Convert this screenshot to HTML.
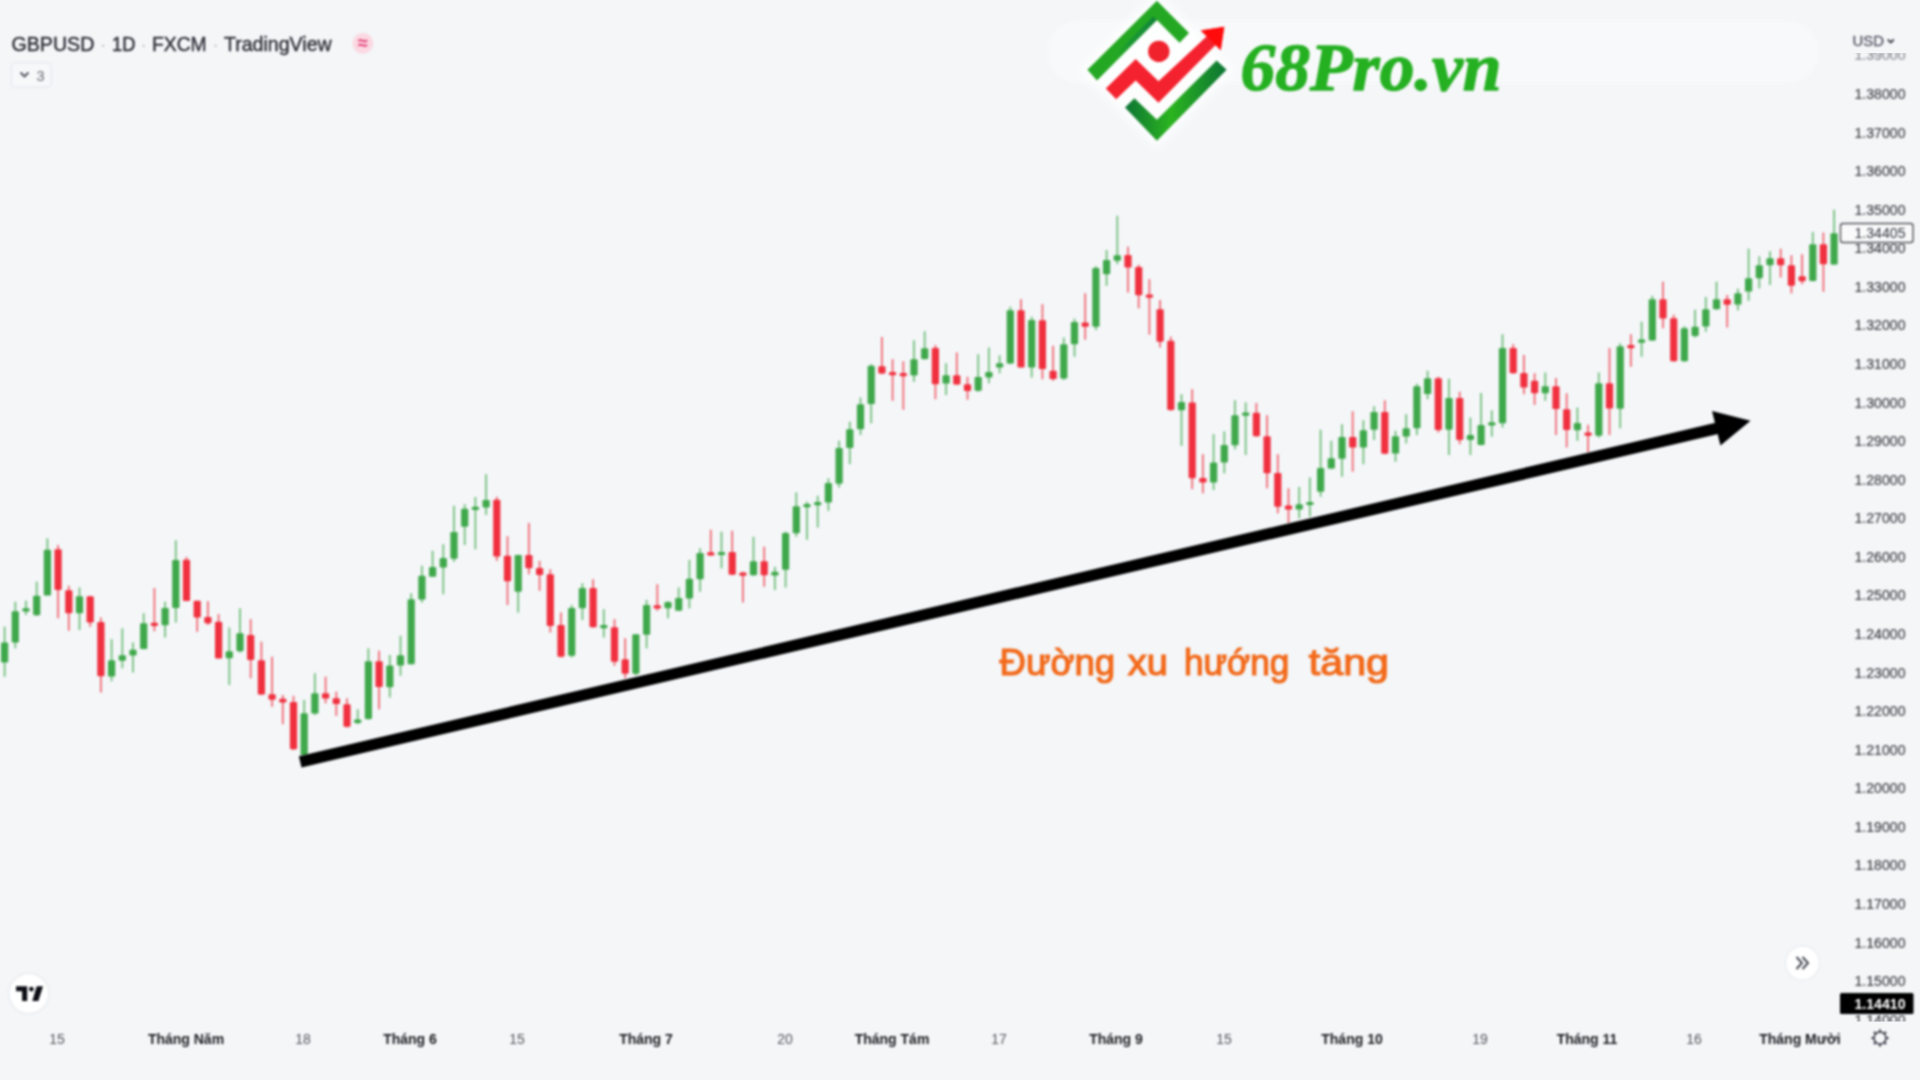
<!DOCTYPE html>
<html lang="vi"><head><meta charset="utf-8"><title>GBPUSD - Đường xu hướng tăng</title>
<style>
html,body{margin:0;padding:0;background:#f4f6f8;}
body{width:1920px;height:1080px;overflow:hidden;position:relative;font-family:"Liberation Sans",sans-serif;}
svg{position:absolute;left:0;top:0;}
svg text{font-family:"Liberation Sans",sans-serif;}
.ya text{font-size:14px;fill:#46474c;stroke:#46474c;stroke-width:.2px;}
.xa text{font-size:14px;}
.xa .d{fill:#56575d;}
.xa .m{fill:#1b1c20;font-weight:bold;}
.soft{filter:blur(.8px);}
.cand{filter:blur(1.15px);}
</style></head><body>
<svg width="1920" height="1080" viewBox="0 0 1920 1080">
<defs>
<linearGradient id="gt" x1="0" y1="1" x2="1" y2="0"><stop offset="0" stop-color="#25a922"/><stop offset=".75" stop-color="#1f9a28"/><stop offset="1" stop-color="#0f7d36"/></linearGradient>
<linearGradient id="gb" x1="0" y1="0" x2="1" y2="0"><stop offset="0" stop-color="#0c7434"/><stop offset=".45" stop-color="#2bb41f"/><stop offset="1" stop-color="#0c7434"/></linearGradient>
<linearGradient id="gd" x1="1" y1="0" x2="0" y2="1"><stop offset="0" stop-color="#0f8238"/><stop offset=".6" stop-color="#17913a" stop-opacity=".7"/><stop offset="1" stop-color="#24a823" stop-opacity="0"/></linearGradient>
<clipPath id="cy"><rect x="1840" y="53" width="80" height="968.5"/></clipPath>
</defs>
<rect width="1920" height="1080" fill="#f4f6f8"/>
<rect x="1047" y="21" width="772" height="62" rx="31" fill="#f8f9fa" style="filter:blur(2.5px)"/>

<!-- header -->
<g class="soft">
<g font-size="20" fill="#30323a" stroke="#30323a" stroke-width=".45">
<text x="11.5" y="50.6" textLength="82.8" lengthAdjust="spacingAndGlyphs">GBPUSD</text>
<text x="112" y="50.6" textLength="23.4" lengthAdjust="spacingAndGlyphs">1D</text>
<text x="152" y="50.6" textLength="54.7" lengthAdjust="spacingAndGlyphs">FXCM</text>
<text x="223.9" y="50.6" textLength="107.8" lengthAdjust="spacingAndGlyphs">TradingView</text>
</g>
<g font-size="20" fill="#c3c6cf" text-anchor="middle"><text x="103.1" y="50.6">·</text><text x="143.7" y="50.6">·</text><text x="215.5" y="50.6">·</text></g>
<circle cx="362.9" cy="43.4" r="10.4" fill="#fbd8e2"/>
<text x="362.9" y="49.3" font-size="18" font-weight="bold" fill="#e23a74" text-anchor="middle">≈</text>
<rect x="11.5" y="63" width="39.5" height="24" rx="3" fill="#f7f8fa" stroke="#e2e5ec" stroke-width="1"/>
<path d="M20.5 72.5l4 4 4-4" fill="none" stroke="#4e515b" stroke-width="1.8"/>
<text x="36.5" y="81.3" font-size="14.5" fill="#696c76">3</text>
<text x="1852.5" y="46.3" font-size="15" fill="#565866" stroke="#565866" stroke-width=".3" textLength="31.5" lengthAdjust="spacingAndGlyphs">USD</text>
<path d="M1887.8 39.5l3 3 3-3" fill="none" stroke="#3c3f49" stroke-width="1.8"/>
</g>

<!-- logo -->
<polygon points="1080,70 1157,-8 1234,70 1157,148" fill="#fff" opacity=".85" style="filter:blur(5px)"/>
<g class="soft">
<polygon points="1087.4,69.8 1156.9,0.7 1189,32.9 1179.6,42.7 1156.9,20.1 1097,80.5" fill="#24a823"/>
<polygon points="1156.9,20.1 1153.2,16.4 1112,57.6 1115.7,61.3" fill="url(#gd)"/>
<polygon points="1125,107.4 1134.4,98.3 1156.9,119.7 1216.6,60.4 1226.6,69.8 1156.9,140.7" fill="url(#gb)"/>
<polygon points="1105.8,88.6 1135.7,59.1 1158.5,81.2 1206.8,36.2 1200.8,30.6 1224.3,26.8 1220.7,50.3 1215.6,45 1158.5,102.7 1135.7,80.5 1116.2,99.3" fill="#f4222e"/>
<polygon points="1200.8,30.6 1224.3,26.8 1220.7,50.3" fill="#ff0b0b"/>
<circle cx="1158.8" cy="51.4" r="10.7" fill="#f0222c"/>
<text x="1240.5" y="89.7" font-family="'Liberation Serif',serif" font-weight="bold" font-style="italic" font-size="67" fill="#25b022" stroke="#25b022" stroke-width="1.3" stroke-linejoin="round" textLength="261" lengthAdjust="spacingAndGlyphs" style="font-family:'Liberation Serif',serif">68Pro.vn</text>
</g>

<!-- candles -->
<g class="cand">
<path d="M4.6 626.7V676.7" stroke="#3fa84b" stroke-width="1.8" stroke-opacity=".7"/><rect x="1.0" y="642.5" width="7.2" height="20.0" rx="1.2" fill="#3fa84b"/>
<path d="M15.3 601.7V648.3" stroke="#3fa84b" stroke-width="1.8" stroke-opacity=".7"/><rect x="11.7" y="611.3" width="7.2" height="31.2" rx="1.2" fill="#3fa84b"/>
<path d="M26.0 600.8V615.0" stroke="#3fa84b" stroke-width="1.8" stroke-opacity=".7"/><rect x="22.4" y="608.3" width="7.2" height="3.3" rx="1.2" fill="#3fa84b"/>
<path d="M36.7 581.7V615.8" stroke="#3fa84b" stroke-width="1.8" stroke-opacity=".7"/><rect x="33.1" y="595.8" width="7.2" height="19.5" rx="1.2" fill="#3fa84b"/>
<path d="M47.4 538.3V595.3" stroke="#3fa84b" stroke-width="1.8" stroke-opacity=".7"/><rect x="43.8" y="549.7" width="7.2" height="45.7" rx="1.2" fill="#3fa84b"/>
<path d="M58.1 545.0V618.3" stroke="#f0303f" stroke-width="1.8" stroke-opacity=".7"/><rect x="54.5" y="549.2" width="7.2" height="40.8" rx="1.2" fill="#f0303f"/>
<path d="M68.8 585.8V630.8" stroke="#f0303f" stroke-width="1.8" stroke-opacity=".7"/><rect x="65.2" y="590.3" width="7.2" height="23.0" rx="1.2" fill="#f0303f"/>
<path d="M79.5 587.5V630.0" stroke="#3fa84b" stroke-width="1.8" stroke-opacity=".7"/><rect x="75.9" y="596.3" width="7.2" height="17.0" rx="1.2" fill="#3fa84b"/>
<path d="M90.2 595.8V626.7" stroke="#f0303f" stroke-width="1.8" stroke-opacity=".7"/><rect x="86.6" y="596.3" width="7.2" height="26.2" rx="1.2" fill="#f0303f"/>
<path d="M100.9 617.5V692.5" stroke="#f0303f" stroke-width="1.8" stroke-opacity=".7"/><rect x="97.3" y="622.0" width="7.2" height="54.3" rx="1.2" fill="#f0303f"/>
<path d="M111.6 639.2V681.3" stroke="#3fa84b" stroke-width="1.8" stroke-opacity=".7"/><rect x="108.0" y="660.3" width="7.2" height="16.3" rx="1.2" fill="#3fa84b"/>
<path d="M122.3 628.3V668.3" stroke="#3fa84b" stroke-width="1.8" stroke-opacity=".7"/><rect x="118.7" y="655.3" width="7.2" height="5.5" rx="1.2" fill="#3fa84b"/>
<path d="M133.0 642.5V672.5" stroke="#3fa84b" stroke-width="1.8" stroke-opacity=".7"/><rect x="129.4" y="649.7" width="7.2" height="5.7" rx="1.2" fill="#3fa84b"/>
<path d="M143.7 613.3V649.2" stroke="#3fa84b" stroke-width="1.8" stroke-opacity=".7"/><rect x="140.1" y="623.3" width="7.2" height="25.8" rx="1.2" fill="#3fa84b"/>
<path d="M154.4 588.0V631.3" stroke="#f0303f" stroke-width="1.8" stroke-opacity=".7"/><rect x="150.8" y="622.8" width="7.2" height="3.2" rx="1.2" fill="#f0303f"/>
<path d="M165.1 601.7V637.5" stroke="#3fa84b" stroke-width="1.8" stroke-opacity=".7"/><rect x="161.5" y="608.0" width="7.2" height="17.3" rx="1.2" fill="#3fa84b"/>
<path d="M175.8 540.3V622.5" stroke="#3fa84b" stroke-width="1.8" stroke-opacity=".7"/><rect x="172.2" y="560.0" width="7.2" height="48.0" rx="1.2" fill="#3fa84b"/>
<path d="M186.5 557.0V600.8" stroke="#f0303f" stroke-width="1.8" stroke-opacity=".7"/><rect x="182.9" y="559.7" width="7.2" height="41.2" rx="1.2" fill="#f0303f"/>
<path d="M197.2 600.8V631.7" stroke="#f0303f" stroke-width="1.8" stroke-opacity=".7"/><rect x="193.6" y="600.8" width="7.2" height="16.7" rx="1.2" fill="#f0303f"/>
<path d="M207.9 601.2V625.0" stroke="#f0303f" stroke-width="1.8" stroke-opacity=".7"/><rect x="204.3" y="617.0" width="7.2" height="6.3" rx="1.2" fill="#f0303f"/>
<path d="M218.6 614.2V658.3" stroke="#f0303f" stroke-width="1.8" stroke-opacity=".7"/><rect x="215.0" y="621.7" width="7.2" height="36.7" rx="1.2" fill="#f0303f"/>
<path d="M229.3 627.5V685.0" stroke="#3fa84b" stroke-width="1.8" stroke-opacity=".7"/><rect x="225.7" y="651.3" width="7.2" height="7.0" rx="1.2" fill="#3fa84b"/>
<path d="M240.0 608.3V652.5" stroke="#3fa84b" stroke-width="1.8" stroke-opacity=".7"/><rect x="236.4" y="633.3" width="7.2" height="18.0" rx="1.2" fill="#3fa84b"/>
<path d="M250.7 619.2V678.3" stroke="#f0303f" stroke-width="1.8" stroke-opacity=".7"/><rect x="247.1" y="635.0" width="7.2" height="25.0" rx="1.2" fill="#f0303f"/>
<path d="M261.4 641.7V695.0" stroke="#f0303f" stroke-width="1.8" stroke-opacity=".7"/><rect x="257.8" y="660.3" width="7.2" height="34.3" rx="1.2" fill="#f0303f"/>
<path d="M272.1 656.7V706.7" stroke="#f0303f" stroke-width="1.8" stroke-opacity=".7"/><rect x="268.5" y="694.2" width="7.2" height="5.5" rx="1.2" fill="#f0303f"/>
<path d="M282.8 695.0V724.2" stroke="#f0303f" stroke-width="1.8" stroke-opacity=".7"/><rect x="279.2" y="698.7" width="7.2" height="3.8" rx="1.2" fill="#f0303f"/>
<path d="M293.5 695.8V750.0" stroke="#f0303f" stroke-width="1.8" stroke-opacity=".7"/><rect x="289.9" y="702.0" width="7.2" height="47.2" rx="1.2" fill="#f0303f"/>
<path d="M304.2 700.0V755.8" stroke="#3fa84b" stroke-width="1.8" stroke-opacity=".7"/><rect x="300.6" y="713.3" width="7.2" height="42.5" rx="1.2" fill="#3fa84b"/>
<path d="M314.9 673.3V715.0" stroke="#3fa84b" stroke-width="1.8" stroke-opacity=".7"/><rect x="311.3" y="693.3" width="7.2" height="20.3" rx="1.2" fill="#3fa84b"/>
<path d="M325.6 676.7V703.3" stroke="#f0303f" stroke-width="1.8" stroke-opacity=".7"/><rect x="322.0" y="693.3" width="7.2" height="5.3" rx="1.2" fill="#f0303f"/>
<path d="M336.3 691.7V715.8" stroke="#f0303f" stroke-width="1.8" stroke-opacity=".7"/><rect x="332.7" y="698.3" width="7.2" height="5.8" rx="1.2" fill="#f0303f"/>
<path d="M347.0 698.3V727.5" stroke="#f0303f" stroke-width="1.8" stroke-opacity=".7"/><rect x="343.4" y="704.2" width="7.2" height="22.5" rx="1.2" fill="#f0303f"/>
<path d="M357.7 709.2V724.2" stroke="#3fa84b" stroke-width="1.8" stroke-opacity=".7"/><rect x="354.1" y="719.5" width="7.2" height="3.5" rx="1.2" fill="#3fa84b"/>
<path d="M368.4 648.3V719.7" stroke="#3fa84b" stroke-width="1.8" stroke-opacity=".7"/><rect x="364.8" y="661.3" width="7.2" height="57.8" rx="1.2" fill="#3fa84b"/>
<path d="M379.1 650.8V709.2" stroke="#f0303f" stroke-width="1.8" stroke-opacity=".7"/><rect x="375.5" y="661.3" width="7.2" height="25.8" rx="1.2" fill="#f0303f"/>
<path d="M389.8 655.0V697.5" stroke="#3fa84b" stroke-width="1.8" stroke-opacity=".7"/><rect x="386.2" y="665.5" width="7.2" height="21.7" rx="1.2" fill="#3fa84b"/>
<path d="M400.5 635.8V675.8" stroke="#3fa84b" stroke-width="1.8" stroke-opacity=".7"/><rect x="396.9" y="655.3" width="7.2" height="10.2" rx="1.2" fill="#3fa84b"/>
<path d="M411.2 593.3V664.2" stroke="#3fa84b" stroke-width="1.8" stroke-opacity=".7"/><rect x="407.6" y="599.2" width="7.2" height="65.0" rx="1.2" fill="#3fa84b"/>
<path d="M421.9 565.8V602.5" stroke="#3fa84b" stroke-width="1.8" stroke-opacity=".7"/><rect x="418.3" y="575.8" width="7.2" height="23.8" rx="1.2" fill="#3fa84b"/>
<path d="M432.6 550.8V576.7" stroke="#3fa84b" stroke-width="1.8" stroke-opacity=".7"/><rect x="429.0" y="567.0" width="7.2" height="9.7" rx="1.2" fill="#3fa84b"/>
<path d="M443.3 544.2V594.2" stroke="#3fa84b" stroke-width="1.8" stroke-opacity=".7"/><rect x="439.7" y="558.0" width="7.2" height="9.5" rx="1.2" fill="#3fa84b"/>
<path d="M454.0 505.8V561.7" stroke="#3fa84b" stroke-width="1.8" stroke-opacity=".7"/><rect x="450.4" y="532.0" width="7.2" height="26.7" rx="1.2" fill="#3fa84b"/>
<path d="M464.7 504.2V545.0" stroke="#3fa84b" stroke-width="1.8" stroke-opacity=".7"/><rect x="461.1" y="508.7" width="7.2" height="18.0" rx="1.2" fill="#3fa84b"/>
<path d="M475.4 497.0V549.2" stroke="#3fa84b" stroke-width="1.8" stroke-opacity=".7"/><rect x="471.8" y="506.7" width="7.2" height="3.2" rx="1.2" fill="#3fa84b"/>
<path d="M486.1 474.2V515.0" stroke="#3fa84b" stroke-width="1.8" stroke-opacity=".7"/><rect x="482.5" y="500.0" width="7.2" height="7.5" rx="1.2" fill="#3fa84b"/>
<path d="M496.8 496.7V560.8" stroke="#f0303f" stroke-width="1.8" stroke-opacity=".7"/><rect x="493.2" y="499.7" width="7.2" height="56.7" rx="1.2" fill="#f0303f"/>
<path d="M507.5 536.3V605.0" stroke="#f0303f" stroke-width="1.8" stroke-opacity=".7"/><rect x="503.9" y="555.8" width="7.2" height="25.5" rx="1.2" fill="#f0303f"/>
<path d="M518.2 554.7V612.5" stroke="#3fa84b" stroke-width="1.8" stroke-opacity=".7"/><rect x="514.6" y="555.0" width="7.2" height="36.7" rx="1.2" fill="#3fa84b"/>
<path d="M528.9 523.0V574.2" stroke="#f0303f" stroke-width="1.8" stroke-opacity=".7"/><rect x="525.3" y="555.0" width="7.2" height="13.3" rx="1.2" fill="#f0303f"/>
<path d="M539.6 560.8V590.8" stroke="#f0303f" stroke-width="1.8" stroke-opacity=".7"/><rect x="536.0" y="568.0" width="7.2" height="7.0" rx="1.2" fill="#f0303f"/>
<path d="M550.3 569.2V632.5" stroke="#f0303f" stroke-width="1.8" stroke-opacity=".7"/><rect x="546.7" y="574.2" width="7.2" height="51.7" rx="1.2" fill="#f0303f"/>
<path d="M561.0 612.5V657.5" stroke="#f0303f" stroke-width="1.8" stroke-opacity=".7"/><rect x="557.4" y="625.0" width="7.2" height="31.7" rx="1.2" fill="#f0303f"/>
<path d="M571.7 605.0V657.5" stroke="#3fa84b" stroke-width="1.8" stroke-opacity=".7"/><rect x="568.1" y="608.0" width="7.2" height="47.8" rx="1.2" fill="#3fa84b"/>
<path d="M582.4 583.3V620.0" stroke="#3fa84b" stroke-width="1.8" stroke-opacity=".7"/><rect x="578.8" y="588.0" width="7.2" height="20.3" rx="1.2" fill="#3fa84b"/>
<path d="M593.1 579.2V627.5" stroke="#f0303f" stroke-width="1.8" stroke-opacity=".7"/><rect x="589.5" y="588.0" width="7.2" height="39.2" rx="1.2" fill="#f0303f"/>
<path d="M603.8 609.2V637.5" stroke="#3fa84b" stroke-width="1.8" stroke-opacity=".7"/><rect x="600.2" y="625.1" width="7.2" height="3.2" rx="1.2" fill="#3fa84b"/>
<path d="M614.5 619.2V665.8" stroke="#f0303f" stroke-width="1.8" stroke-opacity=".7"/><rect x="610.9" y="627.2" width="7.2" height="34.5" rx="1.2" fill="#f0303f"/>
<path d="M625.2 638.3V678.3" stroke="#f0303f" stroke-width="1.8" stroke-opacity=".7"/><rect x="621.6" y="659.2" width="7.2" height="14.5" rx="1.2" fill="#f0303f"/>
<path d="M635.9 634.2V675.8" stroke="#3fa84b" stroke-width="1.8" stroke-opacity=".7"/><rect x="632.3" y="634.2" width="7.2" height="39.5" rx="1.2" fill="#3fa84b"/>
<path d="M646.6 600.0V648.3" stroke="#3fa84b" stroke-width="1.8" stroke-opacity=".7"/><rect x="643.0" y="605.0" width="7.2" height="29.7" rx="1.2" fill="#3fa84b"/>
<path d="M657.3 584.2V610.8" stroke="#f0303f" stroke-width="1.8" stroke-opacity=".7"/><rect x="653.7" y="605.3" width="7.2" height="3.3" rx="1.2" fill="#f0303f"/>
<path d="M668.0 601.3V618.3" stroke="#3fa84b" stroke-width="1.8" stroke-opacity=".7"/><rect x="664.4" y="602.0" width="7.2" height="6.3" rx="1.2" fill="#3fa84b"/>
<path d="M678.7 587.5V610.8" stroke="#3fa84b" stroke-width="1.8" stroke-opacity=".7"/><rect x="675.1" y="598.0" width="7.2" height="12.8" rx="1.2" fill="#3fa84b"/>
<path d="M689.4 560.0V608.3" stroke="#3fa84b" stroke-width="1.8" stroke-opacity=".7"/><rect x="685.8" y="578.7" width="7.2" height="19.7" rx="1.2" fill="#3fa84b"/>
<path d="M700.1 548.3V591.7" stroke="#3fa84b" stroke-width="1.8" stroke-opacity=".7"/><rect x="696.5" y="553.0" width="7.2" height="26.2" rx="1.2" fill="#3fa84b"/>
<path d="M710.8 529.7V555.8" stroke="#f0303f" stroke-width="1.8" stroke-opacity=".7"/><rect x="707.2" y="552.3" width="7.2" height="3.2" rx="1.2" fill="#f0303f"/>
<path d="M721.5 531.7V568.3" stroke="#3fa84b" stroke-width="1.8" stroke-opacity=".7"/><rect x="717.9" y="551.9" width="7.2" height="3.2" rx="1.2" fill="#3fa84b"/>
<path d="M732.2 530.8V575.0" stroke="#f0303f" stroke-width="1.8" stroke-opacity=".7"/><rect x="728.6" y="552.0" width="7.2" height="22.7" rx="1.2" fill="#f0303f"/>
<path d="M742.9 571.7V602.5" stroke="#f0303f" stroke-width="1.8" stroke-opacity=".7"/><rect x="739.3" y="572.6" width="7.2" height="3.2" rx="1.2" fill="#f0303f"/>
<path d="M753.5 536.7V575.8" stroke="#3fa84b" stroke-width="1.8" stroke-opacity=".7"/><rect x="749.9" y="561.3" width="7.2" height="14.0" rx="1.2" fill="#3fa84b"/>
<path d="M764.2 546.7V586.7" stroke="#f0303f" stroke-width="1.8" stroke-opacity=".7"/><rect x="760.6" y="561.3" width="7.2" height="14.0" rx="1.2" fill="#f0303f"/>
<path d="M774.9 566.7V590.0" stroke="#3fa84b" stroke-width="1.8" stroke-opacity=".7"/><rect x="771.3" y="571.7" width="7.2" height="3.7" rx="1.2" fill="#3fa84b"/>
<path d="M785.6 531.7V587.5" stroke="#3fa84b" stroke-width="1.8" stroke-opacity=".7"/><rect x="782.0" y="533.0" width="7.2" height="36.7" rx="1.2" fill="#3fa84b"/>
<path d="M796.3 492.5V536.7" stroke="#3fa84b" stroke-width="1.8" stroke-opacity=".7"/><rect x="792.7" y="506.3" width="7.2" height="27.0" rx="1.2" fill="#3fa84b"/>
<path d="M807.0 501.7V539.7" stroke="#3fa84b" stroke-width="1.8" stroke-opacity=".7"/><rect x="803.4" y="504.0" width="7.2" height="3.2" rx="1.2" fill="#3fa84b"/>
<path d="M817.7 495.8V527.5" stroke="#3fa84b" stroke-width="1.8" stroke-opacity=".7"/><rect x="814.1" y="502.0" width="7.2" height="3.3" rx="1.2" fill="#3fa84b"/>
<path d="M828.4 478.3V510.8" stroke="#3fa84b" stroke-width="1.8" stroke-opacity=".7"/><rect x="824.8" y="483.0" width="7.2" height="19.5" rx="1.2" fill="#3fa84b"/>
<path d="M839.1 440.8V487.5" stroke="#3fa84b" stroke-width="1.8" stroke-opacity=".7"/><rect x="835.5" y="448.0" width="7.2" height="35.7" rx="1.2" fill="#3fa84b"/>
<path d="M849.8 421.7V464.2" stroke="#3fa84b" stroke-width="1.8" stroke-opacity=".7"/><rect x="846.2" y="429.2" width="7.2" height="18.8" rx="1.2" fill="#3fa84b"/>
<path d="M860.5 397.5V435.0" stroke="#3fa84b" stroke-width="1.8" stroke-opacity=".7"/><rect x="856.9" y="404.2" width="7.2" height="25.0" rx="1.2" fill="#3fa84b"/>
<path d="M871.2 364.2V423.3" stroke="#3fa84b" stroke-width="1.8" stroke-opacity=".7"/><rect x="867.6" y="365.8" width="7.2" height="38.3" rx="1.2" fill="#3fa84b"/>
<path d="M881.9 337.0V374.2" stroke="#f0303f" stroke-width="1.8" stroke-opacity=".7"/><rect x="878.3" y="366.3" width="7.2" height="7.3" rx="1.2" fill="#f0303f"/>
<path d="M892.6 359.2V400.8" stroke="#f0303f" stroke-width="1.8" stroke-opacity=".7"/><rect x="889.0" y="372.0" width="7.2" height="3.2" rx="1.2" fill="#f0303f"/>
<path d="M903.3 361.3V409.7" stroke="#f0303f" stroke-width="1.8" stroke-opacity=".7"/><rect x="899.7" y="373.1" width="7.2" height="3.2" rx="1.2" fill="#f0303f"/>
<path d="M914.0 340.3V381.7" stroke="#3fa84b" stroke-width="1.8" stroke-opacity=".7"/><rect x="910.4" y="359.2" width="7.2" height="16.2" rx="1.2" fill="#3fa84b"/>
<path d="M924.7 331.3V359.7" stroke="#3fa84b" stroke-width="1.8" stroke-opacity=".7"/><rect x="921.1" y="348.3" width="7.2" height="10.8" rx="1.2" fill="#3fa84b"/>
<path d="M935.4 345.0V399.2" stroke="#f0303f" stroke-width="1.8" stroke-opacity=".7"/><rect x="931.8" y="348.0" width="7.2" height="36.2" rx="1.2" fill="#f0303f"/>
<path d="M946.1 363.3V395.0" stroke="#3fa84b" stroke-width="1.8" stroke-opacity=".7"/><rect x="942.5" y="375.3" width="7.2" height="8.3" rx="1.2" fill="#3fa84b"/>
<path d="M956.8 352.5V385.0" stroke="#f0303f" stroke-width="1.8" stroke-opacity=".7"/><rect x="953.2" y="375.3" width="7.2" height="9.3" rx="1.2" fill="#f0303f"/>
<path d="M967.5 376.7V399.7" stroke="#f0303f" stroke-width="1.8" stroke-opacity=".7"/><rect x="963.9" y="384.2" width="7.2" height="6.7" rx="1.2" fill="#f0303f"/>
<path d="M978.2 354.2V391.7" stroke="#3fa84b" stroke-width="1.8" stroke-opacity=".7"/><rect x="974.6" y="377.0" width="7.2" height="13.8" rx="1.2" fill="#3fa84b"/>
<path d="M988.9 347.5V383.3" stroke="#3fa84b" stroke-width="1.8" stroke-opacity=".7"/><rect x="985.3" y="372.0" width="7.2" height="5.5" rx="1.2" fill="#3fa84b"/>
<path d="M999.6 355.3V373.3" stroke="#3fa84b" stroke-width="1.8" stroke-opacity=".7"/><rect x="996.0" y="363.3" width="7.2" height="4.2" rx="1.2" fill="#3fa84b"/>
<path d="M1010.3 306.7V364.2" stroke="#3fa84b" stroke-width="1.8" stroke-opacity=".7"/><rect x="1006.7" y="310.3" width="7.2" height="53.3" rx="1.2" fill="#3fa84b"/>
<path d="M1021.0 299.2V367.5" stroke="#f0303f" stroke-width="1.8" stroke-opacity=".7"/><rect x="1017.4" y="310.3" width="7.2" height="57.2" rx="1.2" fill="#f0303f"/>
<path d="M1031.7 316.7V377.5" stroke="#3fa84b" stroke-width="1.8" stroke-opacity=".7"/><rect x="1028.1" y="320.0" width="7.2" height="47.5" rx="1.2" fill="#3fa84b"/>
<path d="M1042.4 304.2V379.2" stroke="#f0303f" stroke-width="1.8" stroke-opacity=".7"/><rect x="1038.8" y="320.3" width="7.2" height="48.8" rx="1.2" fill="#f0303f"/>
<path d="M1053.1 345.8V380.8" stroke="#f0303f" stroke-width="1.8" stroke-opacity=".7"/><rect x="1049.5" y="370.8" width="7.2" height="8.3" rx="1.2" fill="#f0303f"/>
<path d="M1063.8 337.5V380.0" stroke="#3fa84b" stroke-width="1.8" stroke-opacity=".7"/><rect x="1060.2" y="344.2" width="7.2" height="34.2" rx="1.2" fill="#3fa84b"/>
<path d="M1074.5 318.7V356.7" stroke="#3fa84b" stroke-width="1.8" stroke-opacity=".7"/><rect x="1070.9" y="322.0" width="7.2" height="22.2" rx="1.2" fill="#3fa84b"/>
<path d="M1085.2 293.3V339.7" stroke="#f0303f" stroke-width="1.8" stroke-opacity=".7"/><rect x="1081.6" y="322.5" width="7.2" height="4.2" rx="1.2" fill="#f0303f"/>
<path d="M1095.9 266.3V330.0" stroke="#3fa84b" stroke-width="1.8" stroke-opacity=".7"/><rect x="1092.3" y="268.0" width="7.2" height="58.7" rx="1.2" fill="#3fa84b"/>
<path d="M1106.6 250.0V285.8" stroke="#3fa84b" stroke-width="1.8" stroke-opacity=".7"/><rect x="1103.0" y="260.0" width="7.2" height="14.2" rx="1.2" fill="#3fa84b"/>
<path d="M1117.3 215.8V264.2" stroke="#3fa84b" stroke-width="1.8" stroke-opacity=".7"/><rect x="1113.7" y="255.3" width="7.2" height="5.5" rx="1.2" fill="#3fa84b"/>
<path d="M1128.0 246.7V292.5" stroke="#f0303f" stroke-width="1.8" stroke-opacity=".7"/><rect x="1124.4" y="255.0" width="7.2" height="12.5" rx="1.2" fill="#f0303f"/>
<path d="M1138.7 264.7V308.3" stroke="#f0303f" stroke-width="1.8" stroke-opacity=".7"/><rect x="1135.1" y="267.0" width="7.2" height="28.3" rx="1.2" fill="#f0303f"/>
<path d="M1149.4 279.2V334.7" stroke="#f0303f" stroke-width="1.8" stroke-opacity=".7"/><rect x="1145.8" y="294.5" width="7.2" height="3.2" rx="1.2" fill="#f0303f"/>
<path d="M1160.1 300.0V347.5" stroke="#f0303f" stroke-width="1.8" stroke-opacity=".7"/><rect x="1156.5" y="309.2" width="7.2" height="32.5" rx="1.2" fill="#f0303f"/>
<path d="M1170.8 336.7V410.8" stroke="#f0303f" stroke-width="1.8" stroke-opacity=".7"/><rect x="1167.2" y="340.8" width="7.2" height="69.2" rx="1.2" fill="#f0303f"/>
<path d="M1181.5 394.2V445.8" stroke="#3fa84b" stroke-width="1.8" stroke-opacity=".7"/><rect x="1177.9" y="402.0" width="7.2" height="8.3" rx="1.2" fill="#3fa84b"/>
<path d="M1192.2 389.2V489.2" stroke="#f0303f" stroke-width="1.8" stroke-opacity=".7"/><rect x="1188.6" y="402.5" width="7.2" height="75.8" rx="1.2" fill="#f0303f"/>
<path d="M1202.9 454.2V493.3" stroke="#f0303f" stroke-width="1.8" stroke-opacity=".7"/><rect x="1199.3" y="478.0" width="7.2" height="4.5" rx="1.2" fill="#f0303f"/>
<path d="M1213.6 434.2V490.0" stroke="#3fa84b" stroke-width="1.8" stroke-opacity=".7"/><rect x="1210.0" y="462.5" width="7.2" height="20.0" rx="1.2" fill="#3fa84b"/>
<path d="M1224.3 431.3V473.3" stroke="#3fa84b" stroke-width="1.8" stroke-opacity=".7"/><rect x="1220.7" y="445.0" width="7.2" height="17.5" rx="1.2" fill="#3fa84b"/>
<path d="M1235.0 400.3V449.2" stroke="#3fa84b" stroke-width="1.8" stroke-opacity=".7"/><rect x="1231.4" y="415.3" width="7.2" height="30.0" rx="1.2" fill="#3fa84b"/>
<path d="M1245.7 402.5V455.0" stroke="#3fa84b" stroke-width="1.8" stroke-opacity=".7"/><rect x="1242.1" y="412.5" width="7.2" height="3.2" rx="1.2" fill="#3fa84b"/>
<path d="M1256.4 403.0V436.7" stroke="#f0303f" stroke-width="1.8" stroke-opacity=".7"/><rect x="1252.8" y="412.8" width="7.2" height="23.5" rx="1.2" fill="#f0303f"/>
<path d="M1267.1 415.3V488.3" stroke="#f0303f" stroke-width="1.8" stroke-opacity=".7"/><rect x="1263.5" y="436.3" width="7.2" height="37.0" rx="1.2" fill="#f0303f"/>
<path d="M1277.8 454.2V513.3" stroke="#f0303f" stroke-width="1.8" stroke-opacity=".7"/><rect x="1274.2" y="473.0" width="7.2" height="33.7" rx="1.2" fill="#f0303f"/>
<path d="M1288.5 488.3V523.3" stroke="#f0303f" stroke-width="1.8" stroke-opacity=".7"/><rect x="1284.9" y="505.4" width="7.2" height="4.2" rx="1.2" fill="#f0303f"/>
<path d="M1299.2 487.0V518.3" stroke="#3fa84b" stroke-width="1.8" stroke-opacity=".7"/><rect x="1295.6" y="504.2" width="7.2" height="5.4" rx="1.2" fill="#3fa84b"/>
<path d="M1309.9 477.5V516.7" stroke="#3fa84b" stroke-width="1.8" stroke-opacity=".7"/><rect x="1306.3" y="501.9" width="7.2" height="3.2" rx="1.2" fill="#3fa84b"/>
<path d="M1320.6 429.7V496.7" stroke="#3fa84b" stroke-width="1.8" stroke-opacity=".7"/><rect x="1317.0" y="468.0" width="7.2" height="23.7" rx="1.2" fill="#3fa84b"/>
<path d="M1331.3 440.8V469.2" stroke="#3fa84b" stroke-width="1.8" stroke-opacity=".7"/><rect x="1327.7" y="458.3" width="7.2" height="10.3" rx="1.2" fill="#3fa84b"/>
<path d="M1342.0 424.2V476.7" stroke="#3fa84b" stroke-width="1.8" stroke-opacity=".7"/><rect x="1338.4" y="437.0" width="7.2" height="21.7" rx="1.2" fill="#3fa84b"/>
<path d="M1352.7 411.3V471.7" stroke="#f0303f" stroke-width="1.8" stroke-opacity=".7"/><rect x="1349.1" y="437.0" width="7.2" height="10.5" rx="1.2" fill="#f0303f"/>
<path d="M1363.4 420.3V464.2" stroke="#3fa84b" stroke-width="1.8" stroke-opacity=".7"/><rect x="1359.8" y="430.3" width="7.2" height="17.2" rx="1.2" fill="#3fa84b"/>
<path d="M1374.1 406.3V440.0" stroke="#3fa84b" stroke-width="1.8" stroke-opacity=".7"/><rect x="1370.5" y="412.0" width="7.2" height="17.7" rx="1.2" fill="#3fa84b"/>
<path d="M1384.8 400.3V454.2" stroke="#f0303f" stroke-width="1.8" stroke-opacity=".7"/><rect x="1381.2" y="412.0" width="7.2" height="41.7" rx="1.2" fill="#f0303f"/>
<path d="M1395.5 430.8V461.7" stroke="#3fa84b" stroke-width="1.8" stroke-opacity=".7"/><rect x="1391.9" y="436.3" width="7.2" height="17.3" rx="1.2" fill="#3fa84b"/>
<path d="M1406.2 414.2V443.3" stroke="#3fa84b" stroke-width="1.8" stroke-opacity=".7"/><rect x="1402.6" y="428.3" width="7.2" height="8.3" rx="1.2" fill="#3fa84b"/>
<path d="M1416.9 383.7V435.0" stroke="#3fa84b" stroke-width="1.8" stroke-opacity=".7"/><rect x="1413.3" y="386.3" width="7.2" height="42.0" rx="1.2" fill="#3fa84b"/>
<path d="M1427.6 370.8V399.2" stroke="#3fa84b" stroke-width="1.8" stroke-opacity=".7"/><rect x="1424.0" y="378.3" width="7.2" height="15.8" rx="1.2" fill="#3fa84b"/>
<path d="M1438.3 376.7V432.5" stroke="#f0303f" stroke-width="1.8" stroke-opacity=".7"/><rect x="1434.7" y="378.3" width="7.2" height="51.7" rx="1.2" fill="#f0303f"/>
<path d="M1449.0 378.7V455.0" stroke="#3fa84b" stroke-width="1.8" stroke-opacity=".7"/><rect x="1445.4" y="398.0" width="7.2" height="31.7" rx="1.2" fill="#3fa84b"/>
<path d="M1459.7 391.7V444.2" stroke="#f0303f" stroke-width="1.8" stroke-opacity=".7"/><rect x="1456.1" y="398.0" width="7.2" height="42.0" rx="1.2" fill="#f0303f"/>
<path d="M1470.4 417.5V455.0" stroke="#3fa84b" stroke-width="1.8" stroke-opacity=".7"/><rect x="1466.8" y="435.0" width="7.2" height="5.0" rx="1.2" fill="#3fa84b"/>
<path d="M1481.1 393.0V445.3" stroke="#3fa84b" stroke-width="1.8" stroke-opacity=".7"/><rect x="1477.5" y="425.0" width="7.2" height="20.0" rx="1.2" fill="#3fa84b"/>
<path d="M1491.8 410.3V436.7" stroke="#3fa84b" stroke-width="1.8" stroke-opacity=".7"/><rect x="1488.2" y="422.3" width="7.2" height="3.2" rx="1.2" fill="#3fa84b"/>
<path d="M1502.5 334.2V427.5" stroke="#3fa84b" stroke-width="1.8" stroke-opacity=".7"/><rect x="1498.9" y="348.0" width="7.2" height="75.3" rx="1.2" fill="#3fa84b"/>
<path d="M1513.2 344.2V373.7" stroke="#f0303f" stroke-width="1.8" stroke-opacity=".7"/><rect x="1509.6" y="348.0" width="7.2" height="25.3" rx="1.2" fill="#f0303f"/>
<path d="M1523.9 355.0V394.2" stroke="#f0303f" stroke-width="1.8" stroke-opacity=".7"/><rect x="1520.3" y="373.0" width="7.2" height="14.5" rx="1.2" fill="#f0303f"/>
<path d="M1534.6 373.3V405.0" stroke="#f0303f" stroke-width="1.8" stroke-opacity=".7"/><rect x="1531.0" y="380.8" width="7.2" height="12.5" rx="1.2" fill="#f0303f"/>
<path d="M1545.3 372.5V400.8" stroke="#3fa84b" stroke-width="1.8" stroke-opacity=".7"/><rect x="1541.7" y="386.3" width="7.2" height="7.0" rx="1.2" fill="#3fa84b"/>
<path d="M1556.0 378.0V435.0" stroke="#f0303f" stroke-width="1.8" stroke-opacity=".7"/><rect x="1552.4" y="386.3" width="7.2" height="22.8" rx="1.2" fill="#f0303f"/>
<path d="M1566.7 393.3V447.5" stroke="#f0303f" stroke-width="1.8" stroke-opacity=".7"/><rect x="1563.1" y="409.2" width="7.2" height="20.8" rx="1.2" fill="#f0303f"/>
<path d="M1577.4 407.5V440.8" stroke="#3fa84b" stroke-width="1.8" stroke-opacity=".7"/><rect x="1573.8" y="423.0" width="7.2" height="7.3" rx="1.2" fill="#3fa84b"/>
<path d="M1588.1 424.7V452.5" stroke="#f0303f" stroke-width="1.8" stroke-opacity=".7"/><rect x="1584.5" y="432.6" width="7.2" height="3.2" rx="1.2" fill="#f0303f"/>
<path d="M1598.8 372.5V437.5" stroke="#3fa84b" stroke-width="1.8" stroke-opacity=".7"/><rect x="1595.2" y="383.3" width="7.2" height="52.5" rx="1.2" fill="#3fa84b"/>
<path d="M1609.5 348.0V435.0" stroke="#f0303f" stroke-width="1.8" stroke-opacity=".7"/><rect x="1605.9" y="383.3" width="7.2" height="25.3" rx="1.2" fill="#f0303f"/>
<path d="M1620.2 343.3V428.3" stroke="#3fa84b" stroke-width="1.8" stroke-opacity=".7"/><rect x="1616.6" y="346.3" width="7.2" height="62.4" rx="1.2" fill="#3fa84b"/>
<path d="M1630.9 334.2V366.7" stroke="#f0303f" stroke-width="1.8" stroke-opacity=".7"/><rect x="1627.3" y="345.1" width="7.2" height="3.2" rx="1.2" fill="#f0303f"/>
<path d="M1641.6 321.7V356.7" stroke="#3fa84b" stroke-width="1.8" stroke-opacity=".7"/><rect x="1638.0" y="339.6" width="7.2" height="3.2" rx="1.2" fill="#3fa84b"/>
<path d="M1652.3 295.8V340.8" stroke="#3fa84b" stroke-width="1.8" stroke-opacity=".7"/><rect x="1648.7" y="299.2" width="7.2" height="41.2" rx="1.2" fill="#3fa84b"/>
<path d="M1663.0 281.7V328.3" stroke="#f0303f" stroke-width="1.8" stroke-opacity=".7"/><rect x="1659.4" y="299.2" width="7.2" height="19.2" rx="1.2" fill="#f0303f"/>
<path d="M1673.7 314.7V361.7" stroke="#f0303f" stroke-width="1.8" stroke-opacity=".7"/><rect x="1670.1" y="318.3" width="7.2" height="43.0" rx="1.2" fill="#f0303f"/>
<path d="M1684.4 326.3V361.7" stroke="#3fa84b" stroke-width="1.8" stroke-opacity=".7"/><rect x="1680.8" y="328.3" width="7.2" height="33.0" rx="1.2" fill="#3fa84b"/>
<path d="M1695.1 309.7V337.5" stroke="#3fa84b" stroke-width="1.8" stroke-opacity=".7"/><rect x="1691.5" y="326.7" width="7.2" height="9.2" rx="1.2" fill="#3fa84b"/>
<path d="M1705.8 297.0V331.7" stroke="#3fa84b" stroke-width="1.8" stroke-opacity=".7"/><rect x="1702.2" y="309.2" width="7.2" height="17.2" rx="1.2" fill="#3fa84b"/>
<path d="M1716.5 281.7V309.7" stroke="#3fa84b" stroke-width="1.8" stroke-opacity=".7"/><rect x="1712.9" y="299.2" width="7.2" height="10.0" rx="1.2" fill="#3fa84b"/>
<path d="M1727.2 295.0V327.5" stroke="#f0303f" stroke-width="1.8" stroke-opacity=".7"/><rect x="1723.6" y="299.2" width="7.2" height="5.5" rx="1.2" fill="#f0303f"/>
<path d="M1737.9 288.7V310.3" stroke="#3fa84b" stroke-width="1.8" stroke-opacity=".7"/><rect x="1734.3" y="293.3" width="7.2" height="11.3" rx="1.2" fill="#3fa84b"/>
<path d="M1748.6 248.7V300.8" stroke="#3fa84b" stroke-width="1.8" stroke-opacity=".7"/><rect x="1745.0" y="278.3" width="7.2" height="13.3" rx="1.2" fill="#3fa84b"/>
<path d="M1759.3 256.3V288.3" stroke="#3fa84b" stroke-width="1.8" stroke-opacity=".7"/><rect x="1755.7" y="265.3" width="7.2" height="13.0" rx="1.2" fill="#3fa84b"/>
<path d="M1770.0 251.3V285.0" stroke="#3fa84b" stroke-width="1.8" stroke-opacity=".7"/><rect x="1766.4" y="258.3" width="7.2" height="7.0" rx="1.2" fill="#3fa84b"/>
<path d="M1780.7 248.7V277.5" stroke="#f0303f" stroke-width="1.8" stroke-opacity=".7"/><rect x="1777.1" y="258.3" width="7.2" height="7.0" rx="1.2" fill="#f0303f"/>
<path d="M1791.4 255.3V293.3" stroke="#f0303f" stroke-width="1.8" stroke-opacity=".7"/><rect x="1787.8" y="265.3" width="7.2" height="20.5" rx="1.2" fill="#f0303f"/>
<path d="M1802.1 254.2V284.2" stroke="#f0303f" stroke-width="1.8" stroke-opacity=".7"/><rect x="1798.5" y="276.3" width="7.2" height="5.0" rx="1.2" fill="#f0303f"/>
<path d="M1812.8 232.0V281.3" stroke="#3fa84b" stroke-width="1.8" stroke-opacity=".7"/><rect x="1809.2" y="244.2" width="7.2" height="36.7" rx="1.2" fill="#3fa84b"/>
<path d="M1823.4 232.5V291.7" stroke="#f0303f" stroke-width="1.8" stroke-opacity=".7"/><rect x="1819.8" y="244.2" width="7.2" height="20.0" rx="1.2" fill="#f0303f"/>
<path d="M1834.1 209.7V265.0" stroke="#3fa84b" stroke-width="1.8" stroke-opacity=".7"/><rect x="1830.5" y="233.3" width="7.2" height="31.3" rx="1.2" fill="#3fa84b"/>
</g>

<!-- trend line -->
<g class="soft">
<path d="M300.2 761.9L1718 428.1" stroke="#000" stroke-width="11.4" fill="none"/>
<polygon points="1712,410.9 1750.5,420.8 1720.5,445.6" fill="#000"/>
</g>
<g class="soft" font-size="36.5" fill="#f26a1b" stroke="#f26a1b" stroke-width="1.2">
<text x="999.5" y="675" textLength="115.7" lengthAdjust="spacingAndGlyphs">Đường</text>
<text x="1127.8" y="675" textLength="40.1" lengthAdjust="spacingAndGlyphs">xu</text>
<text x="1183.9" y="675" textLength="105.5" lengthAdjust="spacingAndGlyphs">hướng</text>
<text x="1308.8" y="675" textLength="80.2" lengthAdjust="spacingAndGlyphs">tăng</text>
</g>

<!-- y axis -->
<g class="ya soft" clip-path="url(#cy)">
<text x="1854.5" y="60.4" textLength="51" lengthAdjust="spacingAndGlyphs" fill="#9a9da6" style="fill:#a5a8b0">1.39000</text>
<text x="1854.5" y="99.0" textLength="51" lengthAdjust="spacingAndGlyphs">1.38000</text>
<text x="1854.5" y="137.5" textLength="51" lengthAdjust="spacingAndGlyphs">1.37000</text>
<text x="1854.5" y="176.1" textLength="51" lengthAdjust="spacingAndGlyphs">1.36000</text>
<text x="1854.5" y="214.7" textLength="51" lengthAdjust="spacingAndGlyphs">1.35000</text>
<text x="1854.5" y="253.2" textLength="51" lengthAdjust="spacingAndGlyphs">1.34000</text>
<text x="1854.5" y="291.8" textLength="51" lengthAdjust="spacingAndGlyphs">1.33000</text>
<text x="1854.5" y="330.4" textLength="51" lengthAdjust="spacingAndGlyphs">1.32000</text>
<text x="1854.5" y="369.0" textLength="51" lengthAdjust="spacingAndGlyphs">1.31000</text>
<text x="1854.5" y="407.5" textLength="51" lengthAdjust="spacingAndGlyphs">1.30000</text>
<text x="1854.5" y="446.1" textLength="51" lengthAdjust="spacingAndGlyphs">1.29000</text>
<text x="1854.5" y="484.7" textLength="51" lengthAdjust="spacingAndGlyphs">1.28000</text>
<text x="1854.5" y="523.2" textLength="51" lengthAdjust="spacingAndGlyphs">1.27000</text>
<text x="1854.5" y="561.8" textLength="51" lengthAdjust="spacingAndGlyphs">1.26000</text>
<text x="1854.5" y="600.4" textLength="51" lengthAdjust="spacingAndGlyphs">1.25000</text>
<text x="1854.5" y="638.9" textLength="51" lengthAdjust="spacingAndGlyphs">1.24000</text>
<text x="1854.5" y="677.5" textLength="51" lengthAdjust="spacingAndGlyphs">1.23000</text>
<text x="1854.5" y="716.1" textLength="51" lengthAdjust="spacingAndGlyphs">1.22000</text>
<text x="1854.5" y="754.7" textLength="51" lengthAdjust="spacingAndGlyphs">1.21000</text>
<text x="1854.5" y="793.2" textLength="51" lengthAdjust="spacingAndGlyphs">1.20000</text>
<text x="1854.5" y="831.8" textLength="51" lengthAdjust="spacingAndGlyphs">1.19000</text>
<text x="1854.5" y="870.4" textLength="51" lengthAdjust="spacingAndGlyphs">1.18000</text>
<text x="1854.5" y="908.9" textLength="51" lengthAdjust="spacingAndGlyphs">1.17000</text>
<text x="1854.5" y="947.5" textLength="51" lengthAdjust="spacingAndGlyphs">1.16000</text>
<text x="1854.5" y="986.1" textLength="51" lengthAdjust="spacingAndGlyphs">1.15000</text>

<text x="1854.5" y="1024.5" textLength="51" lengthAdjust="spacingAndGlyphs">1.14000</text>
</g>
<g class="soft">
<rect x="1840.5" y="223.5" width="72.5" height="19" rx="2.5" fill="#fafafb" stroke="#55565b" stroke-width="1.4"/>
<text x="1854.5" y="238.3" font-size="14" fill="#33363f" textLength="51" lengthAdjust="spacingAndGlyphs">1.34405</text>
<rect x="1840" y="993" width="73.5" height="21" rx="1.5" fill="#000"/>
<text x="1854.5" y="1008.8" font-size="14" font-weight="bold" fill="#fff" textLength="51" lengthAdjust="spacingAndGlyphs">1.14410</text>
</g>

<!-- x axis -->
<g class="xa soft">
<text class="d" x="57" y="1043.5" text-anchor="middle">15</text>
<text class="m" x="186" y="1043.5" text-anchor="middle">Tháng Năm</text>
<text class="d" x="303" y="1043.5" text-anchor="middle">18</text>
<text class="m" x="410" y="1043.5" text-anchor="middle">Tháng 6</text>
<text class="d" x="517" y="1043.5" text-anchor="middle">15</text>
<text class="m" x="646" y="1043.5" text-anchor="middle">Tháng 7</text>
<text class="d" x="785" y="1043.5" text-anchor="middle">20</text>
<text class="m" x="892" y="1043.5" text-anchor="middle">Tháng Tám</text>
<text class="d" x="999" y="1043.5" text-anchor="middle">17</text>
<text class="m" x="1116" y="1043.5" text-anchor="middle">Tháng 9</text>
<text class="d" x="1224" y="1043.5" text-anchor="middle">15</text>
<text class="m" x="1352" y="1043.5" text-anchor="middle">Tháng 10</text>
<text class="d" x="1480" y="1043.5" text-anchor="middle">19</text>
<text class="m" x="1587" y="1043.5" text-anchor="middle">Tháng 11</text>
<text class="d" x="1694" y="1043.5" text-anchor="middle">16</text>
<text class="m" x="1800" y="1043.5" text-anchor="middle">Tháng Mười</text>

</g>

<!-- buttons -->
<g class="soft">
<circle cx="1802.5" cy="963" r="17" fill="#fff" stroke="#eceef2" stroke-width="1.5"/>
<path d="M1796.5 957l5.5 6-5.5 6M1802.5 957l5.5 6-5.5 6" fill="none" stroke="#4a4d57" stroke-width="2"/>
<circle cx="28.8" cy="993.6" r="20" fill="#fff" stroke="#e9ebef" stroke-width="1.5"/>
<path d="M16.1 986.3H27.2V1000.9H22.1V991.3H16.1Z" fill="#0c0e15"/>
<circle cx="31.4" cy="989.1" r="2.4" fill="#0c0e15"/>
<path d="M36.7 986.3H43L38.3 1000.9H32.3Z" fill="#0c0e15"/>
<circle cx="1880" cy="1038" r="6" fill="none" stroke="#3c3f49" stroke-width="1.6"/>
<path d="M1880 1029.5v2.5M1880 1044v2.5M1871.5 1038h2.5M1886 1038h2.5M1874 1032l1.8 1.8M1884.2 1042.2l1.8 1.8M1886 1032l-1.8 1.8M1875.8 1042.2l-1.8 1.8" stroke="#3c3f49" stroke-width="2"/>
</g>
</svg>
</body></html>
